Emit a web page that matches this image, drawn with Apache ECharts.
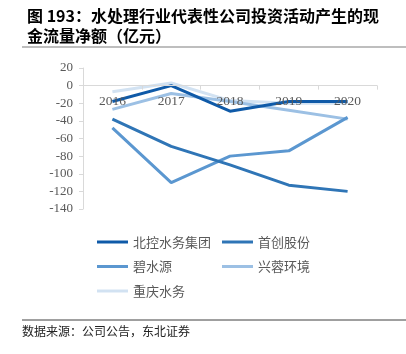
<!DOCTYPE html>
<html><head><meta charset="utf-8">
<script src="https://cdn.jsdelivr.net/npm/echarts@6/dist/echarts.min.js"></script>
<style>html,body{margin:0;padding:0;background:#fff}#c{width:406px;height:354px}</style>
</head><body><div id="c"></div>
<script>
const categories = ['2016','2017','2018','2019','2020'];
const seriesNames = ['北控水务集团','首创股份','碧水源','兴蓉环境','重庆水务'];
const bkws = [-18, 0, -29, -18, -18];
const scgf = [-38, -69, -90, -113, -120];
const bsy = [-48, -110, -80, -74, -36];
const xrhj = [-27, -9, -18, -28, -38];
const cqsw = [-7, 3, -17, -20, -20];
const yTicks = [20, 0, -20, -40, -60, -80, -100, -120, -140];
const values = [bkws, scgf, bsy, xrhj, cqsw];
const colors = ['#0f5aa8', '#2f75b6', '#5b97d0', '#9cc0e4', '#d2e2f2'];

const chart = echarts.init(document.getElementById('c'), null, {renderer: 'canvas'});
const serif = '"Liberation Serif", "Times New Roman", serif';
const cjk = '"Noto Sans CJK SC", sans-serif';
chart.setOption({
  animation: false,
  title: {
    text: '图 193：水处理行业代表性公司投资活动产生的现\n金流量净额（亿元）',
    left: 22, top: 1,
    textStyle: {fontSize: 16, fontWeight: 'bold', color: '#000', lineHeight: 20, fontFamily: cjk}
  },
  graphic: [
    {type: 'line', shape: {x1: 22, y1: 47, x2: 406, y2: 47}, style: {stroke: '#7f7f7f', lineWidth: 1.2}},
    {type: 'line', shape: {x1: 22, y1: 320, x2: 406, y2: 320}, style: {stroke: '#404040', lineWidth: 1}},
    {type: 'text', left: 22, top: 325, style: {text: '数据来源：公司公告，东北证券', fontSize: 12, fill: '#222', fontFamily: cjk}}
  ],
  legend: [
    {data: [seriesNames[0], seriesNames[2], seriesNames[4]], orient: 'vertical', left: 92, top: 230,
     icon: 'rect', itemWidth: 31, itemHeight: 3, itemGap: 10.5,
     textStyle: {fontSize: 13, color: '#595959', fontFamily: cjk, lineHeight: 14}},
    {data: [seriesNames[1], seriesNames[3]], orient: 'vertical', left: 217, top: 230,
     icon: 'rect', itemWidth: 31, itemHeight: 3, itemGap: 10.5,
     textStyle: {fontSize: 13, color: '#595959', fontFamily: cjk, lineHeight: 14}}
  ],
  grid: {left: 83, right: 29, top: 68, bottom: 145, containLabel: false},
  xAxis: {
    type: 'category', data: categories, boundaryGap: true, z: 30,
    axisLine: {onZero: true, lineStyle: {color: '#d9d9d9', width: 1}},
    axisTick: {show: true, length: 4, lineStyle: {color: '#d9d9d9'}},
    axisLabel: {fontSize: 13.5, color: '#595959', fontFamily: serif, margin: -115}
  },
  yAxis: {
    type: 'value', min: -140, max: 20, interval: 20,
    axisLine: {show: true, lineStyle: {color: '#d9d9d9'}},
    axisTick: {show: true, length: 4, lineStyle: {color: '#d9d9d9'}},
    splitLine: {show: false},
    axisLabel: {fontSize: 13, color: '#595959', fontFamily: serif, margin: 10,
      formatter: v => yTicks.includes(v) ? String(v) : ''}
  },
  series: seriesNames.map((n, i) => ({
    name: n, type: 'line', data: values[i], symbol: 'none',
    lineStyle: {width: 3, color: colors[i]}, itemStyle: {color: colors[i]},
    z: 10 - i
  }))
});
</script></body></html>
